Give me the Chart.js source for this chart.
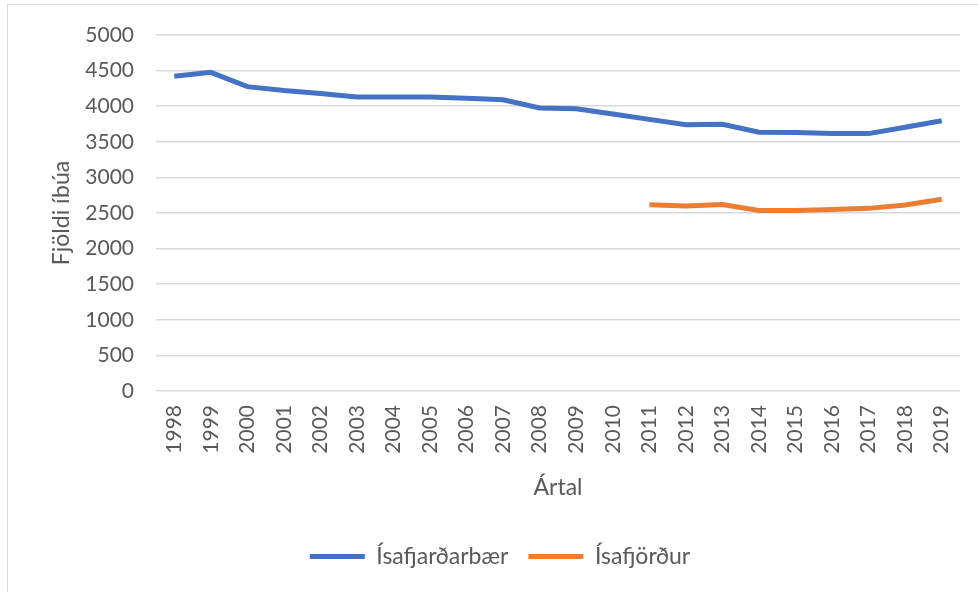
<!DOCTYPE html>
<html>
<head>
<meta charset="utf-8">
<script src="https://cdn.jsdelivr.net/npm/chart.js@4"></script>
<style>
  html, body { margin: 0; padding: 0; background: #fff; overflow: hidden; }
  #wrap { position: relative; width: 978px; height: 592px; }
  #frame {
    position: absolute; left: 7px; top: 4px; width: 1000px; height: 1000px;
    border: 1.5px solid #d9d9d9; box-sizing: border-box;
  }
  canvas { position: absolute; left: 0; top: 0; }
</style>
</head>
<body>
<div id="wrap">
  <div id="frame"></div>
  <canvas id="chart" width="978" height="592"></canvas>
</div>
<script>
// years on the x axis
const years = ["1998", "1999", "2000", "2001", "2002", "2003", "2004", "2005", "2006", "2007", "2008",
  "2009", "2010", "2011", "2012", "2013", "2014", "2015", "2016", "2017", "2018", "2019"];

// population, whole municipality
const isafjardarbaer = [4420, 4475, 4275, 4220, 4180, 4130, 4130, 4130, 4110, 4090, 3975,
  3965, 3890, 3815, 3740, 3745, 3635, 3630, 3615, 3615, 3705, 3795];

// population, the town itself (only from 2011)
const isafjordur = [null, null, null, null, null, null, null, null, null, null, null,
  null, null, 2615, 2600, 2620, 2535, 2535, 2548, 2565, 2612, 2692];

const yMin = 0;
const yMax = 5000;
const yStep = 500;

const textColor = "#595959";
const gridColor = "#d9d9d9";
const fontName = "Lato, 'Open Sans', sans-serif";

// legend sits a bit right of centre in the original
const legendShift = {
  id: "legendShift",
  afterLayout(chart) {
    chart.legend.left += 17;
    chart.legend.right += 17;
  }
};

new Chart(document.getElementById("chart"), {
  type: "line",
  data: {
    labels: years,
    datasets: [
      {
        label: "Ísafjarðarbær",
        data: isafjardarbaer,
        borderColor: "#4472c4",
        backgroundColor: "#4472c4",
        borderWidth: 5,
        pointRadius: 0,
        tension: 0
      },
      {
        label: "Ísafjörður",
        data: isafjordur,
        borderColor: "#ed7d31",
        backgroundColor: "#ed7d31",
        borderWidth: 5,
        pointRadius: 0,
        tension: 0
      }
    ]
  },
  plugins: [legendShift],
  options: {
    responsive: false,
    animation: false,
    layout: {
      padding: { left: 6, right: 18, top: 35, bottom: 14 }
    },
    plugins: {
      tooltip: { enabled: false },
      legend: {
        position: "bottom",
        labels: {
          color: textColor,
          font: { family: fontName, size: 23 },
          boxWidth: 55,
          boxHeight: 5,
          padding: 20,
          generateLabels: (chart) => chart.data.datasets.map((ds, i) => ({
            text: ds.label,
            fillStyle: ds.borderColor,
            strokeStyle: ds.borderColor,
            lineWidth: 0,
            fontColor: textColor,
            datasetIndex: i
          }))
        }
      }
    },
    scales: {
      x: {
        offset: true,
        grid: { display: false },
        border: { display: false },
        ticks: {
          color: textColor,
          font: { family: fontName, size: 21 },
          minRotation: 90,
          maxRotation: 90,
          autoSkip: false,
          padding: 6
        },
        title: {
          display: true,
          text: "Ártal",
          color: textColor,
          font: { family: fontName, size: 23 },
          padding: { top: 0, bottom: 24 }
        },
        afterFit: (scale) => { scale.height = 134; }
      },
      y: {
        min: yMin,
        max: yMax,
        grid: { color: gridColor, lineWidth: 1.5, drawTicks: false },
        border: { display: false },
        ticks: {
          stepSize: yStep,
          color: textColor,
          font: { family: fontName, size: 21 },
          padding: 22,
          callback: (value) => String(value)
        },
        title: {
          display: true,
          text: "Fjöldi íbúa",
          color: textColor,
          font: { family: fontName, size: 23 },
          padding: { top: 42, bottom: 0 }
        },
        afterFit: (scale) => { scale.width = 150; }
      }
    }
  }
});
</script>
</body>
</html>
